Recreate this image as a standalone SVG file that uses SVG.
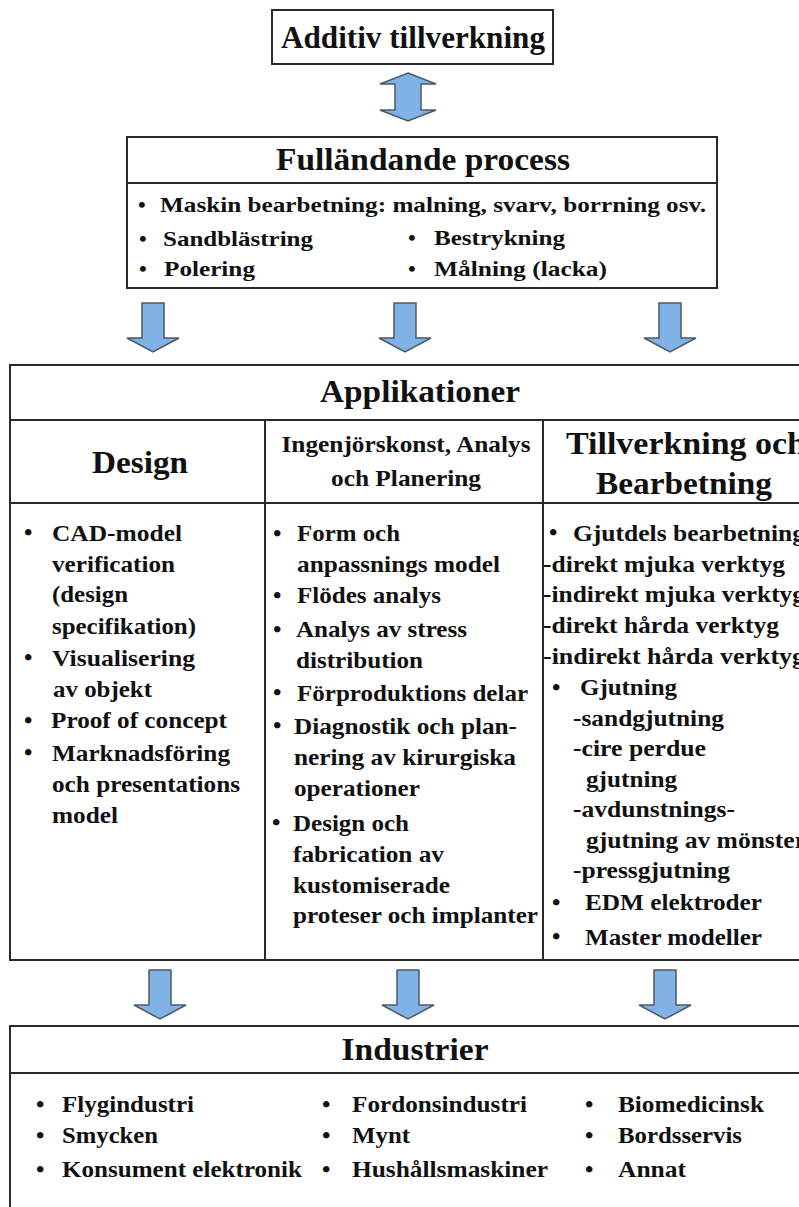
<svg xmlns="http://www.w3.org/2000/svg" xmlns:xlink="http://www.w3.org/1999/xlink" width="799" height="1207" viewBox="0 0 799 1207">
<style>
  text { font-family: 'Liberation Serif', serif; font-weight: 700; fill: #111; }
  .box { fill: #fff; stroke: #2a2a2a; stroke-width: 2; }
  .ln { stroke: #2a2a2a; stroke-width: 2; fill: none; }
  .h1 { font-size: 32px; }
  .h2 { font-size: 23px; }
  .b { font-size: 24px; }
  .bf { font-size: 22px; }
  .bi { font-size: 24px; }
  .mid { text-anchor: middle; }
  .arr { fill: #80b2e6; stroke: #4d5a66; stroke-width: 1.5; stroke-linejoin: miter; }
</style>
<defs>
  <path id="down" d="M-11,0 L11,0 L11,35 L26,35 L0,49 L-26,35 L-11,35 Z"/>
</defs>
<rect width="799" height="1207" fill="#fff"/>

<g id="node-additiv">
  <rect class="box" x="272" y="10" width="281" height="54"/>
  <text class="h1 mid" x="413" y="48" textLength="264" lengthAdjust="spacingAndGlyphs">Additiv tillverkning</text>
</g>

<g id="node-fullandande">
  <rect class="box" x="127" y="137" width="590" height="151"/>
  <line class="ln" x1="127" y1="183" x2="717" y2="183"/>
  <text class="h1 mid" x="423" y="170" textLength="294" lengthAdjust="spacingAndGlyphs">Fulländande process</text>
  <text class="bf" x="138" y="212">•</text>
  <text class="bf" x="160" y="212" textLength="546" lengthAdjust="spacingAndGlyphs">Maskin bearbetning: malning, svarv, borrning osv.</text>
  <text class="bf" x="139" y="246">•</text>
  <text class="bf" x="163" y="246" textLength="150" lengthAdjust="spacingAndGlyphs">Sandblästring</text>
  <text class="bf" x="408" y="245">•</text>
  <text class="bf" x="434" y="245" textLength="131" lengthAdjust="spacingAndGlyphs">Bestrykning</text>
  <text class="bf" x="139" y="276">•</text>
  <text class="bf" x="164" y="276" textLength="91" lengthAdjust="spacingAndGlyphs">Polering</text>
  <text class="bf" x="408" y="276">•</text>
  <text class="bf" x="434" y="276" textLength="173" lengthAdjust="spacingAndGlyphs">Målning (lacka)</text>
</g>

<g id="node-applikationer">
  <rect class="box" x="10" y="365" width="800" height="595"/>
  <line class="ln" x1="10" y1="420" x2="799" y2="420"/>
  <line class="ln" x1="10" y1="503" x2="799" y2="503"/>
  <line class="ln" x1="265" y1="420" x2="265" y2="960"/>
  <line class="ln" x1="543" y1="420" x2="543" y2="960"/>
  <text class="h1 mid" x="420" y="402" textLength="200" lengthAdjust="spacingAndGlyphs">Applikationer</text>

  <g id="col-design">
    <text class="h1 mid" x="140" y="473" textLength="96" lengthAdjust="spacingAndGlyphs">Design</text>
    <text class="b" x="24" y="540">•</text>
    <text class="b" x="52" y="541" textLength="130" lengthAdjust="spacingAndGlyphs">CAD-model</text>
    <text class="b" x="52" y="572" textLength="123" lengthAdjust="spacingAndGlyphs">verification</text>
    <text class="b" x="52" y="602" textLength="76" lengthAdjust="spacingAndGlyphs">(design</text>
    <text class="b" x="52" y="634" textLength="144" lengthAdjust="spacingAndGlyphs">specifikation)</text>
    <text class="b" x="24" y="665">•</text>
    <text class="b" x="52" y="666" textLength="143" lengthAdjust="spacingAndGlyphs">Visualisering</text>
    <text class="b" x="53" y="697" textLength="99" lengthAdjust="spacingAndGlyphs">av objekt</text>
    <text class="b" x="24" y="728">•</text>
    <text class="b" x="51" y="728" textLength="176" lengthAdjust="spacingAndGlyphs">Proof of concept</text>
    <text class="b" x="24" y="760">•</text>
    <text class="b" x="52" y="761" textLength="178" lengthAdjust="spacingAndGlyphs">Marknadsföring</text>
    <text class="b" x="52" y="792" textLength="188" lengthAdjust="spacingAndGlyphs">och presentations</text>
    <text class="b" x="52" y="823" textLength="66" lengthAdjust="spacingAndGlyphs">model</text>
  </g>

  <g id="col-ingenjor">
    <text class="h2 mid" x="406" y="452" textLength="249" lengthAdjust="spacingAndGlyphs">Ingenjörskonst, Analys</text>
    <text class="h2 mid" x="406" y="486" textLength="150" lengthAdjust="spacingAndGlyphs">och Planering</text>
    <text class="b" x="273" y="541">•</text>
    <text class="b" x="297" y="541" textLength="103" lengthAdjust="spacingAndGlyphs">Form och</text>
    <text class="b" x="297" y="572" textLength="203" lengthAdjust="spacingAndGlyphs">anpassnings model</text>
    <text class="b" x="273" y="603">•</text>
    <text class="b" x="297" y="603" textLength="144" lengthAdjust="spacingAndGlyphs">Flödes analys</text>
    <text class="b" x="273" y="637">•</text>
    <text class="b" x="296" y="637" textLength="171" lengthAdjust="spacingAndGlyphs">Analys av stress</text>
    <text class="b" x="296" y="668" textLength="127" lengthAdjust="spacingAndGlyphs">distribution</text>
    <text class="b" x="273" y="700">•</text>
    <text class="b" x="297" y="701" textLength="231" lengthAdjust="spacingAndGlyphs">Förproduktions delar</text>
    <text class="b" x="273" y="733">•</text>
    <text class="b" x="294" y="734" textLength="223" lengthAdjust="spacingAndGlyphs">Diagnostik och plan-</text>
    <text class="b" x="294" y="765" textLength="222" lengthAdjust="spacingAndGlyphs">nering av kirurgiska</text>
    <text class="b" x="294" y="796" textLength="126" lengthAdjust="spacingAndGlyphs">operationer</text>
    <text class="b" x="272" y="830">•</text>
    <text class="b" x="293" y="831" textLength="116" lengthAdjust="spacingAndGlyphs">Design och</text>
    <text class="b" x="293" y="862" textLength="151" lengthAdjust="spacingAndGlyphs">fabrication av</text>
    <text class="b" x="293" y="893" textLength="157" lengthAdjust="spacingAndGlyphs">kustomiserade</text>
    <text class="b" x="293" y="923" textLength="245" lengthAdjust="spacingAndGlyphs">proteser och implanter</text>
  </g>

  <g id="col-tillverkning">
    <text class="h1" x="566" y="454" textLength="240" lengthAdjust="spacingAndGlyphs">Tillverkning och</text>
    <text class="h1 mid" x="684" y="494" textLength="176" lengthAdjust="spacingAndGlyphs">Bearbetning</text>
    <text class="b" x="549" y="540">•</text>
    <text class="b" x="573" y="541" textLength="232" lengthAdjust="spacingAndGlyphs">Gjutdels bearbetning</text>
    <text class="b" x="543" y="572" textLength="242" lengthAdjust="spacingAndGlyphs">-direkt mjuka verktyg</text>
    <text class="b" x="543" y="602" textLength="262" lengthAdjust="spacingAndGlyphs">-indirekt mjuka verktyg</text>
    <text class="b" x="543" y="633" textLength="236" lengthAdjust="spacingAndGlyphs">-direkt hårda verktyg</text>
    <text class="b" x="543" y="664" textLength="262" lengthAdjust="spacingAndGlyphs">-indirekt hårda verktyg</text>
    <text class="b" x="552" y="695">•</text>
    <text class="b" x="580" y="695" textLength="97" lengthAdjust="spacingAndGlyphs">Gjutning</text>
    <text class="b" x="573" y="726" textLength="151" lengthAdjust="spacingAndGlyphs">-sandgjutning</text>
    <text class="b" x="573" y="756" textLength="133" lengthAdjust="spacingAndGlyphs">-cire perdue</text>
    <text class="b" x="586" y="787" textLength="91" lengthAdjust="spacingAndGlyphs">gjutning</text>
    <text class="b" x="573" y="817" textLength="162" lengthAdjust="spacingAndGlyphs">-avdunstnings-</text>
    <text class="b" x="586" y="848" textLength="220" lengthAdjust="spacingAndGlyphs">gjutning av mönster</text>
    <text class="b" x="573" y="878" textLength="157" lengthAdjust="spacingAndGlyphs">-pressgjutning</text>
    <text class="b" x="552" y="910">•</text>
    <text class="b" x="585" y="910" textLength="177" lengthAdjust="spacingAndGlyphs">EDM elektroder</text>
    <text class="b" x="552" y="944">•</text>
    <text class="b" x="585" y="945" textLength="177" lengthAdjust="spacingAndGlyphs">Master modeller</text>
  </g>
</g>

<g id="node-industrier">
  <rect class="box" x="10" y="1026" width="800" height="200"/>
  <line class="ln" x1="10" y1="1073" x2="799" y2="1073"/>
  <text class="h1 mid" x="415" y="1060" textLength="147" lengthAdjust="spacingAndGlyphs">Industrier</text>
  <text class="bi" x="36" y="1112">•</text>
  <text class="bi" x="62" y="1112" textLength="132" lengthAdjust="spacingAndGlyphs">Flygindustri</text>
  <text class="bi" x="36" y="1143">•</text>
  <text class="bi" x="62" y="1143" textLength="96" lengthAdjust="spacingAndGlyphs">Smycken</text>
  <text class="bi" x="36" y="1177">•</text>
  <text class="bi" x="62" y="1177" textLength="240" lengthAdjust="spacingAndGlyphs">Konsument elektronik</text>
  <text class="bi" x="322" y="1112">•</text>
  <text class="bi" x="352" y="1112" textLength="175" lengthAdjust="spacingAndGlyphs">Fordonsindustri</text>
  <text class="bi" x="322" y="1143">•</text>
  <text class="bi" x="352" y="1143" textLength="58" lengthAdjust="spacingAndGlyphs">Mynt</text>
  <text class="bi" x="322" y="1177">•</text>
  <text class="bi" x="352" y="1177" textLength="196" lengthAdjust="spacingAndGlyphs">Hushållsmaskiner</text>
  <text class="bi" x="585" y="1112">•</text>
  <text class="bi" x="618" y="1112" textLength="146" lengthAdjust="spacingAndGlyphs">Biomedicinsk</text>
  <text class="bi" x="585" y="1143">•</text>
  <text class="bi" x="618" y="1143" textLength="124" lengthAdjust="spacingAndGlyphs">Bordsservis</text>
  <text class="bi" x="585" y="1177">•</text>
  <text class="bi" x="618" y="1177" textLength="68" lengthAdjust="spacingAndGlyphs">Annat</text>
</g>

<g id="connectors">
  <polygon class="arr" points="408,73 436,84 421,84 421,110 436,110 408,121 380,110 395,110 395,84 380,84"/>
  <use xlink:href="#down" href="#down" class="arr" transform="translate(153,303)"/>
  <use xlink:href="#down" href="#down" class="arr" transform="translate(405,303)"/>
  <use xlink:href="#down" href="#down" class="arr" transform="translate(670,303)"/>
  <use xlink:href="#down" href="#down" class="arr" transform="translate(160,970)"/>
  <use xlink:href="#down" href="#down" class="arr" transform="translate(408,970)"/>
  <use xlink:href="#down" href="#down" class="arr" transform="translate(665,970)"/>
</g>
</svg>
